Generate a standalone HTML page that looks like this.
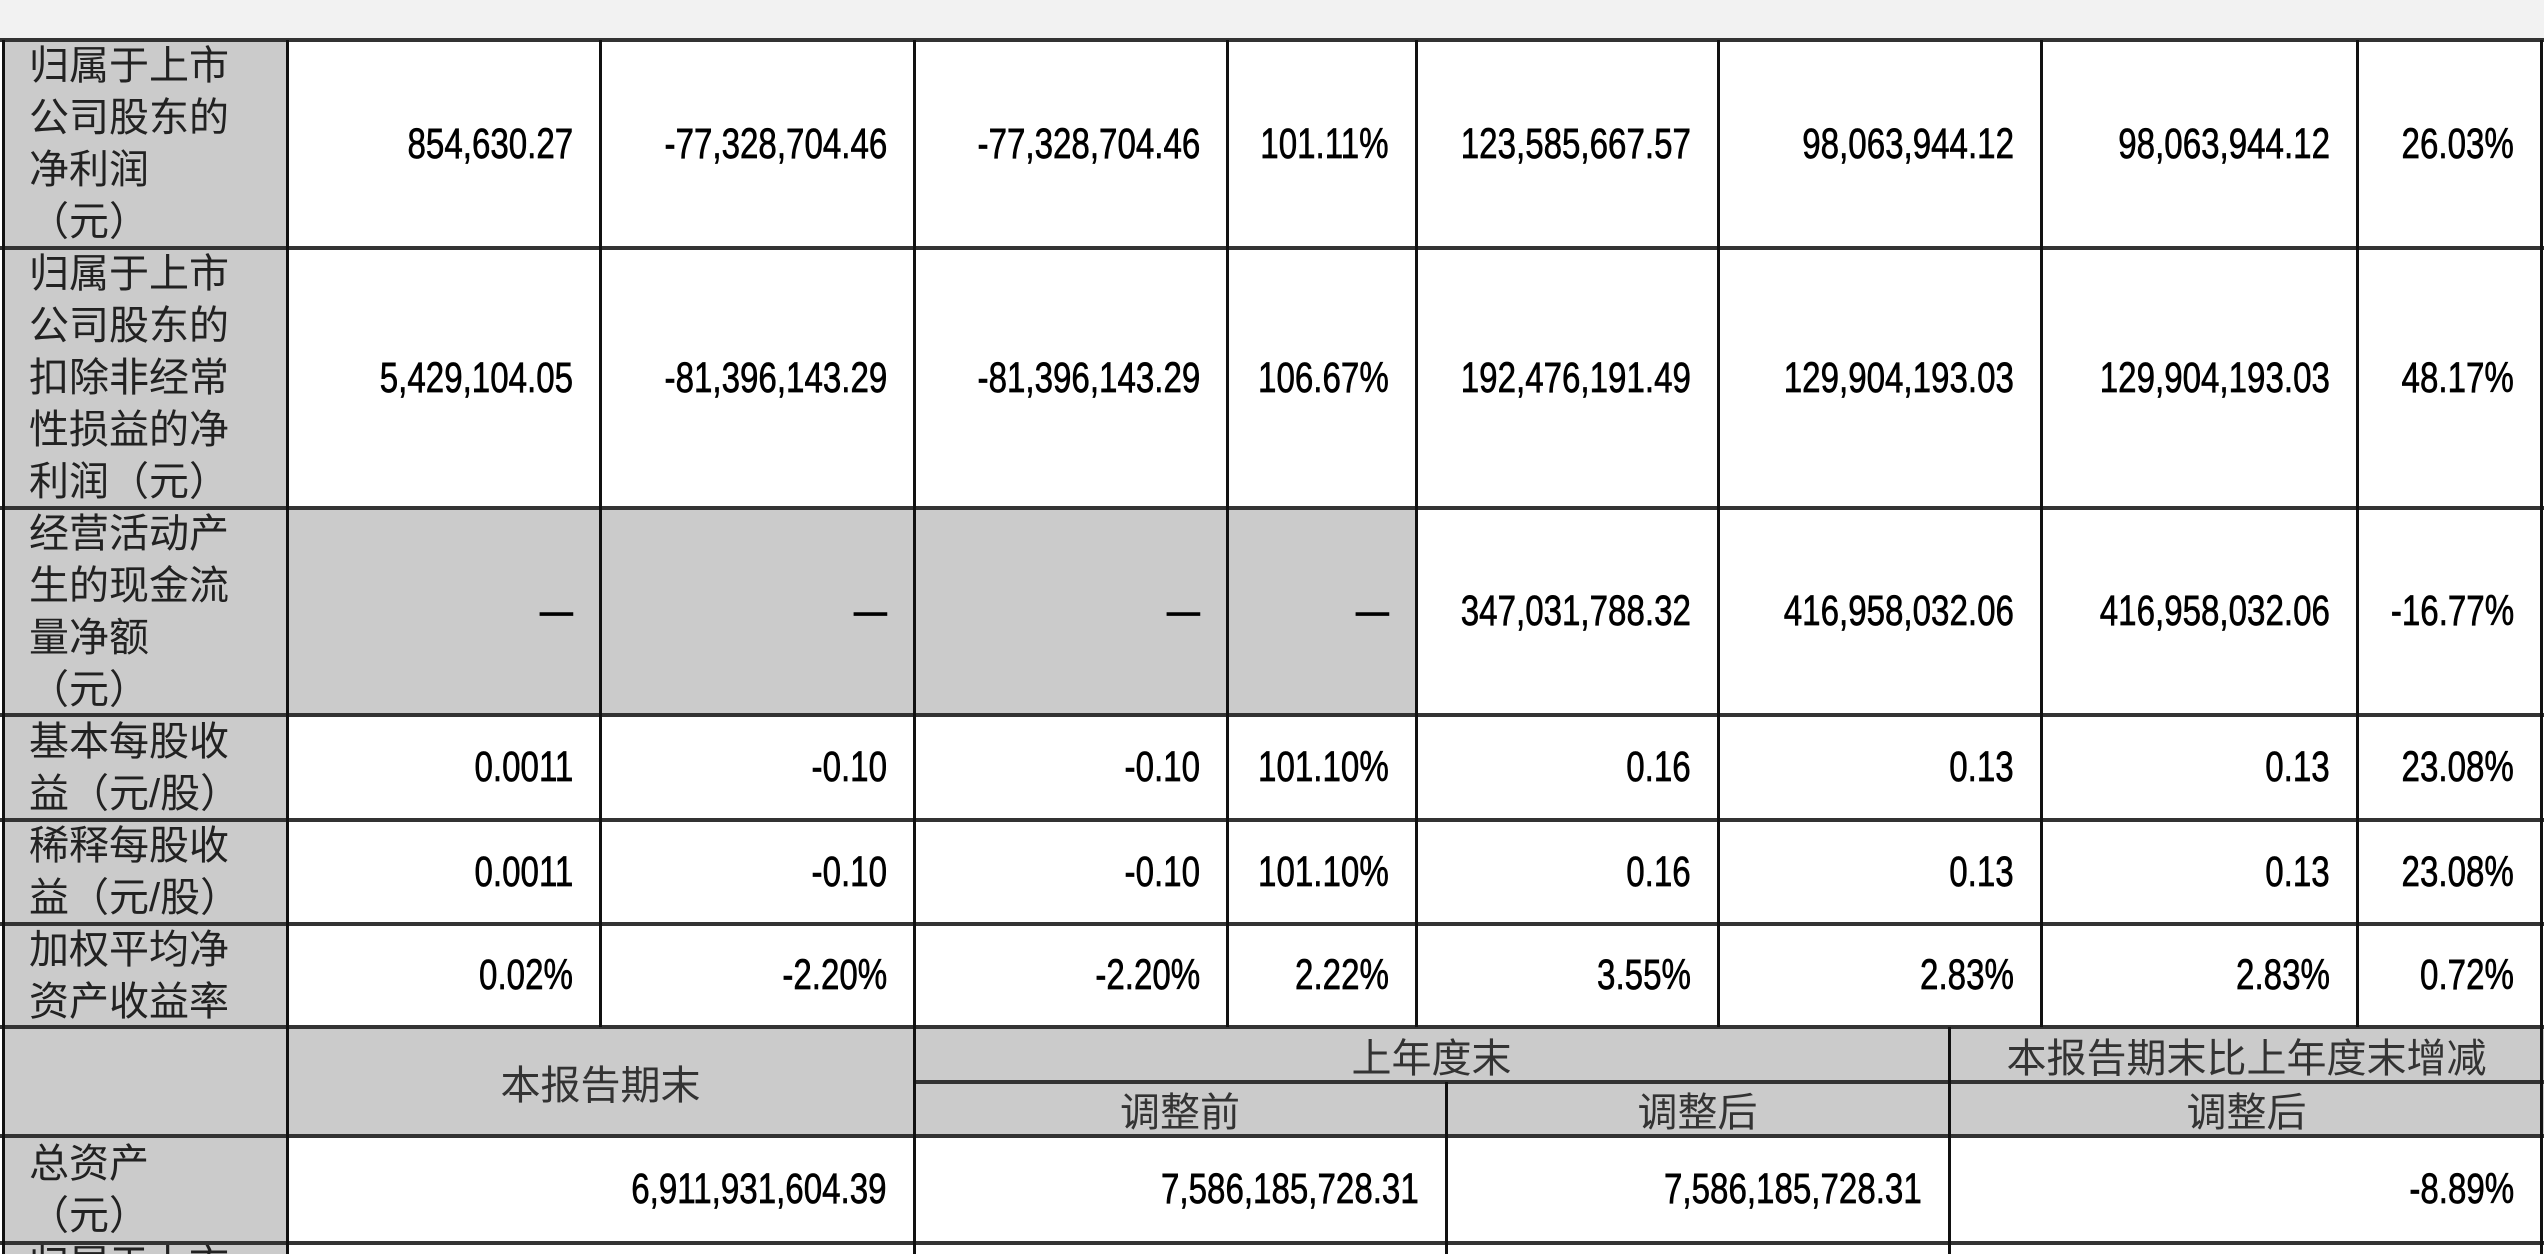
<!DOCTYPE html>
<html style="overflow:hidden;width:2544px;height:1254px"><head><meta charset="utf-8">
<style>
html,body{margin:0;width:2544px;height:1254px;overflow:hidden;}
body{background:#fff;position:relative;font-family:"Liberation Sans","Noto Sans CJK SC",sans-serif;}
.top{position:absolute;left:0;top:0;width:2544px;height:40px;background:#f2f2f2}
.c{position:absolute;box-sizing:border-box;display:flex;align-items:center;justify-content:flex-end;padding-right:27px;color:#000}
.g{background:#cbcbcb}
.n{display:inline-block;font-size:43px;transform:scaleX(0.77);transform-origin:right center;white-space:nowrap;-webkit-text-stroke:0.7px #000}
.lab{position:absolute;box-sizing:border-box;padding-left:26px;font-size:40px;line-height:52px;color:#222;display:flex;align-items:center;background:#cbcbcb;overflow:hidden}
.h{position:absolute;box-sizing:border-box;display:flex;align-items:center;justify-content:center;font-size:40px;color:#333;background:#cbcbcb}
.hl{position:absolute;background:#333;height:4px}
.vl{position:absolute;background:#111;width:3px}
</style></head><body>
<div class="top"></div>
<div id="tbl" style="position:absolute;left:0;top:0;width:2544px;height:1254px;overflow:hidden"></div>
<script>
const X=[3,287,600,914,1227,1416,1718,2041,2357,2541];
const Y=[40,248,508,715,820,924,1027];
const labels=["归属于上市<br>公司股东的<br>净利润<br>（元）","归属于上市<br>公司股东的<br>扣除非经常<br>性损益的净<br>利润（元）","经营活动产<br>生的现金流<br>量净额<br>（元）","基本每股收<br>益（元/股）","稀释每股收<br>益（元/股）","加权平均净<br>资产收益率"];
const rowNames=["net-profit","net-profit-deducted","operating-cash-flow","basic-eps","diluted-eps","weighted-roe"];
const vals=[
["854,630.27","-77,328,704.46","-77,328,704.46","101.11%","123,585,667.57","98,063,944.12","98,063,944.12","26.03%"],
["5,429,104.05","-81,396,143.29","-81,396,143.29","106.67%","192,476,191.49","129,904,193.03","129,904,193.03","48.17%"],
["—","—","—","—","347,031,788.32","416,958,032.06","416,958,032.06","-16.77%"],
["0.0011","-0.10","-0.10","101.10%","0.16","0.13","0.13","23.08%"],
["0.0011","-0.10","-0.10","101.10%","0.16","0.13","0.13","23.08%"],
["0.02%","-2.20%","-2.20%","2.22%","3.55%","2.83%","2.83%","0.72%"]];
const t=document.getElementById('tbl');
let h='';
for(let r=0;r<6;r++){
 h+=`<div class="lab" style="left:${X[0]}px;top:${Y[r]}px;width:${X[1]-X[0]}px;height:${Y[r+1]-Y[r]}px">${labels[r]}</div>`;
 for(let c=0;c<8;c++){
  const gray=(r==2&&c<4)?' g':'';
  h+=`<div class="c${gray}" style="left:${X[c+1]}px;top:${Y[r]}px;width:${X[c+2]-X[c+1]}px;height:${Y[r+1]-Y[r]}px"><span class="n">${vals[r][c]}</span></div>`;
 }
}
h+=`<div class="h" style="left:3px;top:1027px;width:284px;height:109px"></div>`;
h+=`<div class="h" style="left:287px;top:1027px;width:627px;height:109px">本报告期末</div>`;
h+=`<div class="h" style="left:914px;top:1027px;width:1035px;height:55px">上年度末</div>`;
h+=`<div class="h" style="left:1949px;top:1027px;width:595px;height:55px">本报告期末比上年度末增减</div>`;
h+=`<div class="h" style="left:914px;top:1082px;width:532px;height:54px">调整前</div>`;
h+=`<div class="h" style="left:1446px;top:1082px;width:503px;height:54px">调整后</div>`;
h+=`<div class="h" style="left:1949px;top:1082px;width:595px;height:54px">调整后</div>`;
h+=`<div class="lab" style="left:3px;top:1136px;width:284px;height:107px">总资产<br>（元）</div>`;
const lx=[287,914,1446,1949,2541];
const lv=["6,911,931,604.39","7,586,185,728.31","7,586,185,728.31","-8.89%"];
for(let c=0;c<4;c++){
 h+=`<div class="c" style="left:${lx[c]}px;top:1136px;width:${lx[c+1]-lx[c]}px;height:107px"><span class="n">${lv[c]}</span></div>`;
}
h+=`<div class="lab" style="left:3px;top:1243px;width:284px;height:11px;align-items:flex-start;line-height:40px;padding-top:2px">归属于上市</div>`;
for(const y of Y) h+=`<div class="hl" style="left:0;top:${y-2}px;width:2544px"></div>`;
for(const y of [1136,1243]) h+=`<div class="hl" style="left:0;top:${y-2}px;width:2544px"></div>`;
h+=`<div class="hl" style="left:914px;top:1080px;width:1630px"></div>`;
for(const x of X) h+=`<div class="vl" style="left:${x-1}px;top:40px;height:987px"></div>`;
for(const x of [3,287,914,1949,2541]) h+=`<div class="vl" style="left:${x-1}px;top:1027px;height:227px"></div>`;
h+=`<div class="vl" style="left:1445px;top:1082px;height:172px"></div>`;
t.innerHTML=h;
</script>
</body></html>
